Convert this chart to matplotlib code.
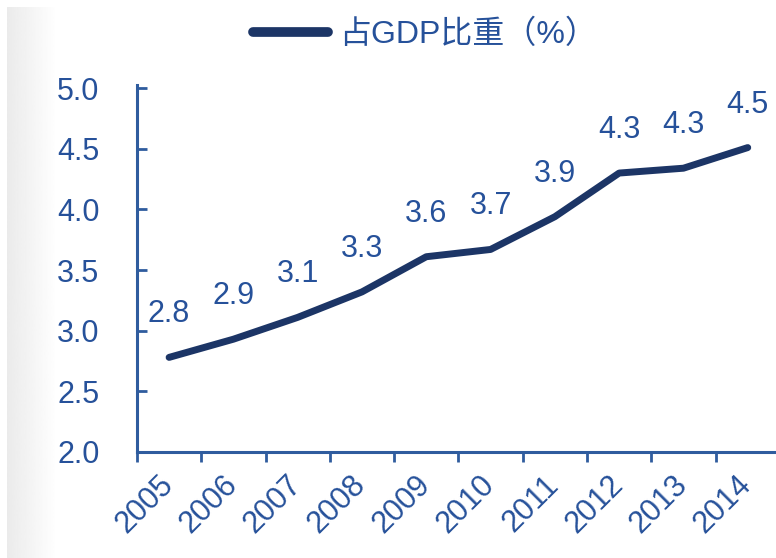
import numpy as np
import matplotlib
matplotlib.use("Agg")
import matplotlib.pyplot as plt
from matplotlib.ticker import FixedLocator, NullFormatter, FixedFormatter
from matplotlib.transforms import ScaledTranslation

plt.rcParams['font.family'] = ['Liberation Sans', 'Noto Sans CJK SC']

years = ['2005', '2006', '2007', '2008', '2009',
         '2010', '2011', '2012', '2013', '2014']
share = [2.78, 2.93, 3.11, 3.32, 3.61, 3.67, 3.94, 4.30, 4.34, 4.51]
y_ticks = [2.0, 2.5, 3.0, 3.5, 4.0, 4.5, 5.0]
series_name = '占GDP比重（%）'

text_blue = '#26519a'
axis_blue = '#2f5c9e'
line_navy = '#1c3566'

fig = plt.figure(figsize=(7.76, 5.58), dpi=100)

# soft grey band down the left edge
bg = fig.add_axes([0.009, 0.0, 0.065, 0.987])
grad = np.linspace(0.92, 1.0, 64).reshape(1, -1)
bg.imshow(grad, cmap='gray', vmin=0, vmax=1, aspect='auto', extent=[0, 1, 0, 1])
bg.set_axis_off()

ax = fig.add_axes([0.1765, 0.19, 0.8285, 0.652])
x = np.arange(len(years))
ax.plot(x, share, color=line_navy, linewidth=5, solid_capstyle='round',
        solid_joinstyle='round', label=series_name)

for xi, v in zip(x, share):
    ax.annotate('%.1f' % v, (xi, v), xytext=(0, 31), textcoords='offset points',
                ha='center', va='center', fontsize=22, color=text_blue)

ax.set_xlim(-0.5, len(years) - 0.5)
ax.set_ylim(2.0, 5.0)

ax.set_yticks(y_ticks)
ax.set_yticklabels(['%.1f' % t for t in y_ticks])
ax.tick_params(axis='y', direction='in', length=7, width=2, color=axis_blue,
               labelsize=22, labelcolor=text_blue, pad=27)

# category boundaries get tick marks, centres get the year labels
ax.xaxis.set_major_locator(FixedLocator(np.arange(-0.5, len(years), 1.0)))
ax.xaxis.set_major_formatter(NullFormatter())
ax.xaxis.set_minor_locator(FixedLocator(x))
ax.xaxis.set_minor_formatter(FixedFormatter(years))
ax.tick_params(axis='x', which='major', direction='out', length=7, width=2,
               color=axis_blue)
ax.tick_params(axis='x', which='minor', length=0, labelsize=22,
               labelcolor=text_blue, pad=13)
shift = ScaledTranslation(-8 / 72, 0, fig.dpi_scale_trans)
for lab in ax.xaxis.get_minorticklabels():
    lab.set_rotation(45)
    lab.set_ha('right')
    lab.set_va('top')
    lab.set_rotation_mode('anchor')
    lab.set_transform(lab.get_transform() + shift)

for side in ['top', 'right']:
    ax.spines[side].set_visible(False)
for side in ['left', 'bottom']:
    ax.spines[side].set_color(axis_blue)
    ax.spines[side].set_linewidth(2.2)
ax.spines['left'].set_bounds(2.0, 5.03)

leg = fig.legend(loc='center', bbox_to_anchor=(0.548, 0.937), frameon=False,
                 fontsize=23, handlelength=2.35, handletextpad=0.35)
for t in leg.get_texts():
    t.set_color(text_blue)
for h in leg.get_lines():
    h.set_linewidth(7)

fig.savefig('out.png', dpi=100)
